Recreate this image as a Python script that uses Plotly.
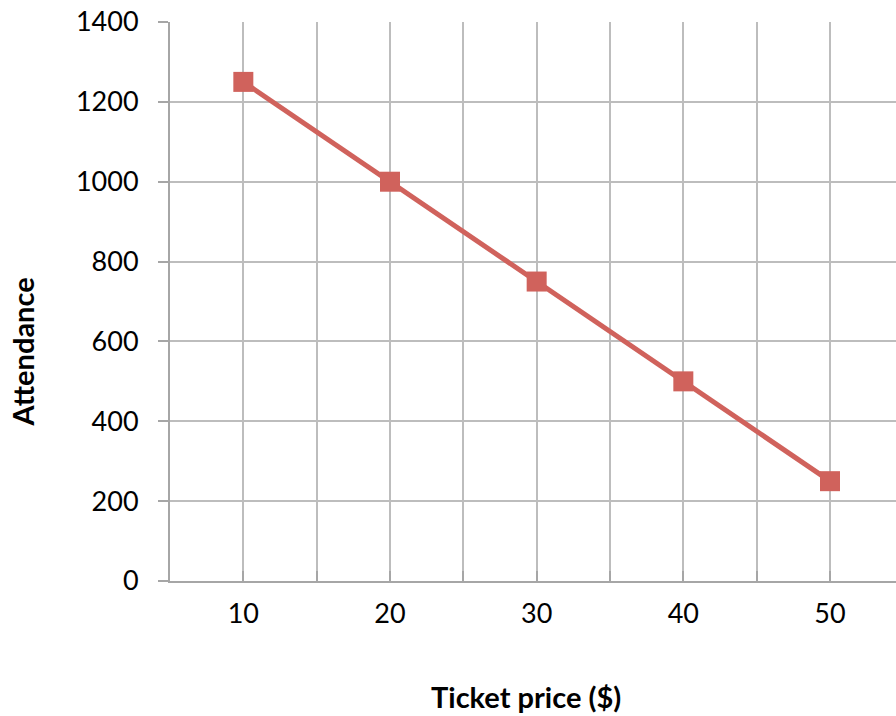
import plotly.graph_objects as go

# Ticket price vs. attendance
ticket_price = [10, 20, 30, 40, 50]
attendance = [1250, 1000, 750, 500, 250]

x_title = "Ticket price ($)"
y_title = "Attendance"

RED = "#d0625c"
GRID = "#bdbdbd"
AXIS = "#a6a6a6"
FONT = "Lato"

fig = go.Figure()
fig.add_trace(go.Scatter(
    x=ticket_price, y=attendance,
    mode="lines+markers",
    line=dict(color=RED, width=5),
    marker=dict(symbol="square", size=20, color=RED),
    showlegend=False,
    cliponaxis=False,
))

fig.update_layout(
    width=896, height=716,
    margin=dict(l=170, r=0, t=22, b=135),
    paper_bgcolor="white", plot_bgcolor="white",
    font=dict(family=FONT, size=27, color="black"),
    xaxis=dict(
        range=[5, 54.5], tick0=10, dtick=10,
        showgrid=True, gridcolor=GRID, gridwidth=2,
        showline=True, linecolor=AXIS, linewidth=2,
        ticks="inside", ticklen=10, tickcolor=AXIS, tickwidth=2,
        minor=dict(dtick=5, tick0=5, showgrid=True, gridcolor=GRID, gridwidth=2,
                   ticks="inside", ticklen=10, tickcolor=AXIS, tickwidth=2),
        zeroline=False,
        ticklabelstandoff=8,
        tickfont=dict(size=27),
    ),
    yaxis=dict(
        range=[0, 1400], dtick=200,
        showgrid=True, gridcolor=GRID, gridwidth=2,
        showline=True, linecolor=AXIS, linewidth=2,
        ticks="outside", ticklen=10, tickcolor=AXIS, tickwidth=2,
        zeroline=False,
        ticklabelstandoff=14,
        tickfont=dict(size=27),
    ),
    annotations=[
        dict(text=f"<b>{x_title}</b>", xref="paper", yref="paper",
             x=0.49, y=-0.207, xanchor="center", yanchor="middle",
             showarrow=False, font=dict(size=29)),
        dict(text=f"<b>{y_title}</b>", xref="paper", yref="paper",
             x=-0.203, y=0.41, xanchor="center", yanchor="middle",
             textangle=-90, showarrow=False, font=dict(size=29)),
    ],
)

fig.write_html("out.html")
